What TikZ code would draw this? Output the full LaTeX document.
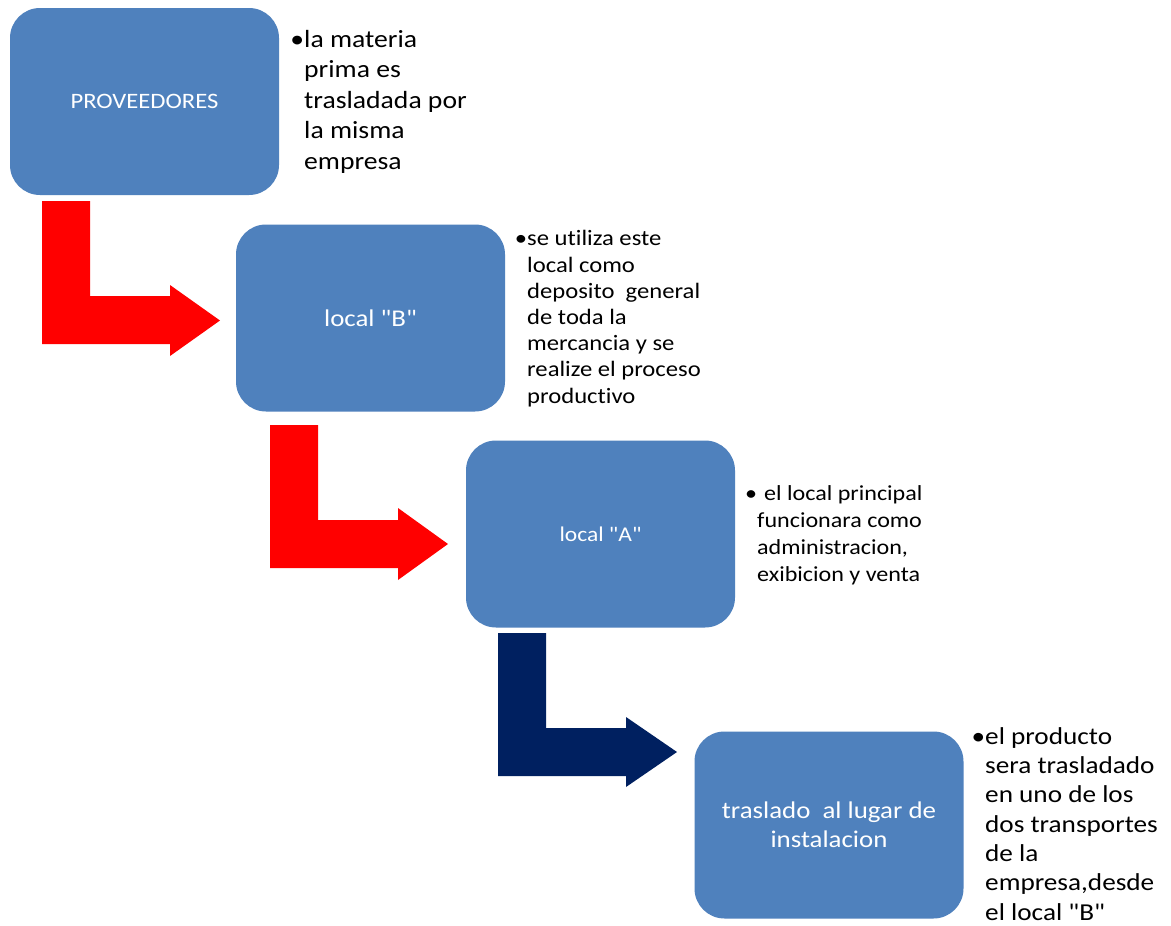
\documentclass[tikz,border=0pt]{standalone}
\usepackage{fontspec}
\setmainfont{Carlito}[FakeStretch=1.12, Ligatures={TeXOff,NoCommon}]
\definecolor{boxblue}{HTML}{4F81BD}
\definecolor{arrred}{HTML}{FF0000}
\definecolor{arrnavy}{HTML}{002060}
\begin{document}
\begin{tikzpicture}[x=1pt,y=-1pt,
  stepbox/.style={fill=boxblue, draw=none, rounded corners=30pt, minimum width=269pt,
    minimum height=187pt, inner sep=0pt, text=white, align=center},
  note/.style={text=black, align=left, inner sep=0pt, anchor=base west}
]
\useasboundingbox (0,0) rectangle (1171,926);
\fill[white] (0,0) rectangle (1171,926);

% boxes
\node[stepbox, font=\fontsize{22}{29}\selectfont] (prov) at (144.5,101.5) {PROVEEDORES};
\node[stepbox, font=\fontsize{24}{29}\selectfont] (locB) at (370.5,318) {local "B"};
\node[stepbox, font=\fontsize{21}{29}\selectfont] (locA) at (600.5,534) {local "A"};
\node[stepbox, font=\fontsize{24}{29}\selectfont] (tras) at (829,825) {traslado\ \ al lugar de\\instalacion};

% bent arrows
\fill[arrred] (42,201) -- (90,201) -- (90,296) -- (170,296) -- (170,285) -- (220,320.5)
  -- (170,356) -- (170,344) -- (42,344) -- cycle;
\fill[arrred] (270,425) -- (318,425) -- (318,520) -- (398,520) -- (398,508) -- (448,544)
  -- (398,580) -- (398,568) -- (270,568) -- cycle;
\fill[arrnavy] (498,633) -- (546,633) -- (546,728) -- (626,728) -- (626,717) -- (677,752)
  -- (626,787) -- (626,776) -- (498,776) -- cycle;

% notes (anchored at the baseline of the last line)
\node[note, font=\fontsize{24.7}{30.5}\selectfont] (n1) at (304,169)
  {\llap{•}la materia\\prima es\\trasladada por\\la misma\\empresa};
\node[note, font=\fontsize{22}{26.2}\selectfont] (n2) at (527,403)
  {\llap{•}se utiliza este\\local como\\deposito\ \ general\\de toda la\\mercancia y se\\realize el proceso\\productivo};
\node[note, font=\fontsize{21.5}{26.7}\selectfont] (n3) at (757,581)
  {\llap{•}\hspace{7pt}el local principal\\funcionara como\\administracion,\\exibicion y venta};
\node[note, font=\fontsize{24.3}{29.3}\selectfont] (n4) at (985,920)
  {\llap{•}el producto\\sera trasladado\\en uno de los\\dos transportes\\de la\\empresa,desde\\el local "B"};
\end{tikzpicture}
\end{document}
